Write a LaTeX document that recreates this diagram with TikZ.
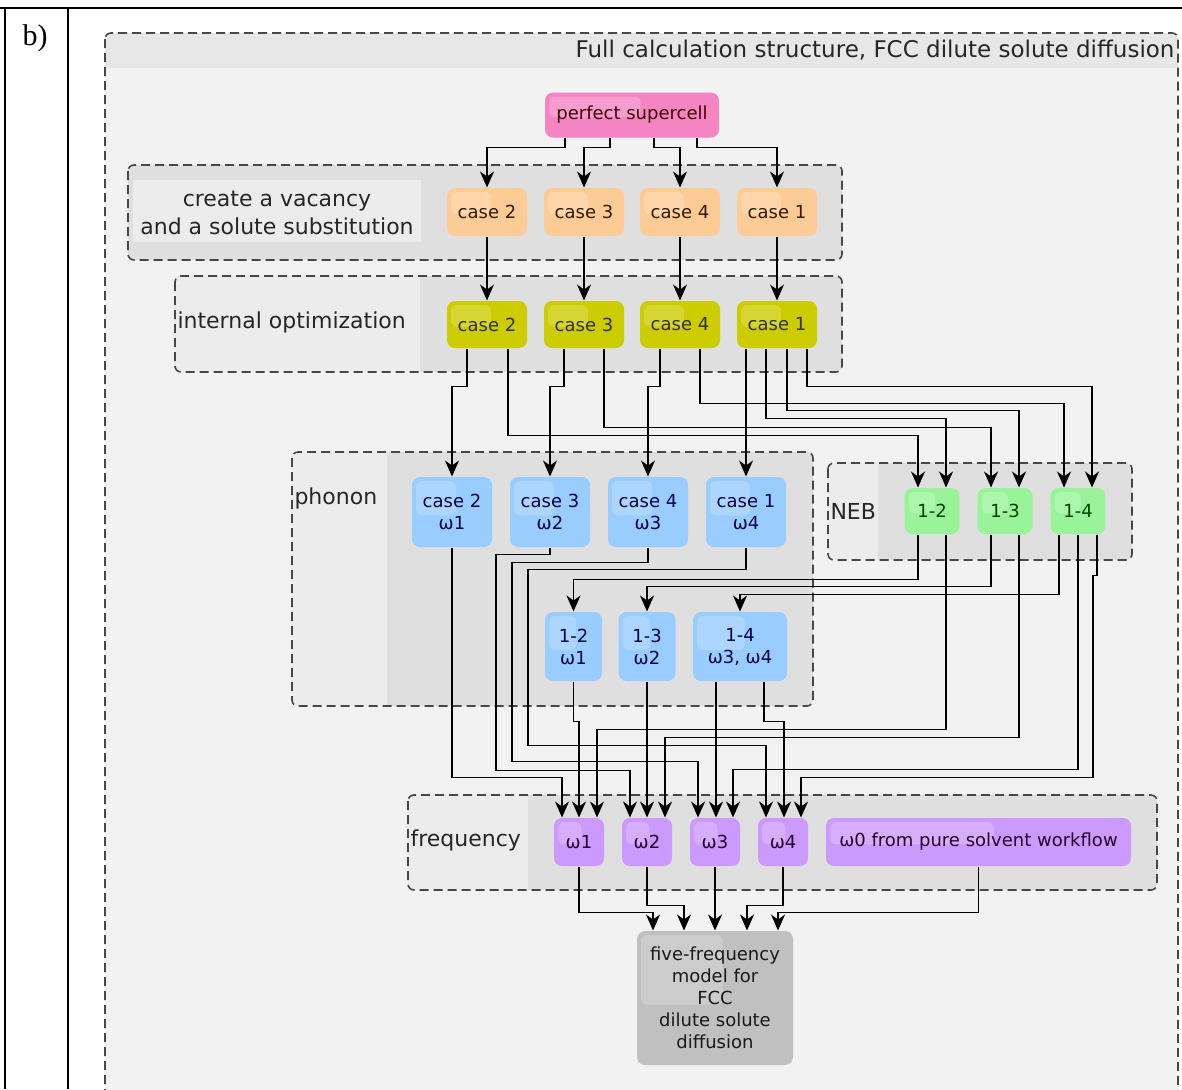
\documentclass[tikz,border=0pt]{standalone}
\usepackage{fontspec}
\setmainfont{DejaVu Sans}
\newfontfamily\tagfont{Liberation Serif}
\usetikzlibrary{arrows.meta,calc}
\definecolor{cpink}{RGB}{244,132,194}
\definecolor{corange}{RGB}{253,204,150}
\definecolor{colive}{RGB}{204,204,0}
\definecolor{cblue}{RGB}{153,204,255}
\definecolor{cgreen}{RGB}{153,244,153}
\definecolor{cviolet}{RGB}{204,153,255}
\definecolor{cgrey}{RGB}{192,192,192}
\definecolor{bgpage}{RGB}{242,242,242}
\definecolor{bgband}{RGB}{231,231,231}
\definecolor{grpdark}{RGB}{223,223,223}
\definecolor{grplight}{RGB}{236,236,236}
\newcommand\boxfont{\fontsize{9}{11}\selectfont}
\newcommand\grpfont{\fontsize{11}{14}\selectfont}
\newcommand\titlefont{\fontsize{11.5}{14}\selectfont}
\tikzset{every picture/.style={line width=0.5pt}}
\tikzset{
  gloss/.style={path picture={\fill[white,opacity=0.2,rounded corners=3pt]
    ($(path picture bounding box.north west)+(4,4)$) rectangle
    ($(path picture bounding box.north west)!0.55!(path picture bounding box.south east)$);}},
  blk/.style={rounded corners=4pt, inner sep=0pt, align=center, font=\boxfont,
    minimum width=40pt, minimum height=24pt, gloss},
  supbox/.style={blk, fill=cpink, text=black!75!red},
  crbox/.style={blk, fill=corange, text=black!80!orange},
  optbox/.style={blk, fill=colive, text=black!85!olive},
  phbox/.style={blk, fill=cblue, text=black!70!blue, minimum height=35pt},
  nebbox/.style={blk, fill=cgreen, text=black!75!green, minimum width=27.5pt, minimum height=23pt},
  frbox/.style={blk, fill=cviolet, text=black!70!violet, minimum width=25pt},
  modelbox/.style={blk, fill=cgrey, text=black!90},
  grp/.style={draw=black!72, line width=0.8pt, dash pattern=on 4.5pt off 2.5pt, rounded corners=3pt},
  grplabel/.style={font=\grpfont, text=black!85, anchor=west, inner sep=0pt},
  flow/.style={-{Stealth[length=8pt,width=7pt,inset=2.5pt]}, line width=0.65pt, draw=black}
}
\begin{document}
\begin{tikzpicture}[x=0.5pt,y=-0.5pt]
\clip (0,0) rectangle (1182,1089);
\fill[white] (0,0) rectangle (1182,1089);
% table frame
\draw[line width=0.8pt] (0,8) -- (1182,8);
\draw[line width=0.8pt] (5,8) -- (5,1089);
\draw[line width=0.8pt] (68,8) -- (68,1089);
\node[font=\tagfont\fontsize{15}{17}\selectfont] (tag) at (35,38) {b)};
% outer container
\begin{scope}
  \clip[rounded corners=3pt] (105,33) rectangle (1178,1120);
  \fill[bgpage] (105,33) rectangle (1178,1120);
  \fill[bgband] (105,33) rectangle (1178,68);
\end{scope}
\draw[grp] (105,33) rectangle (1178,1120);
\node[font=\titlefont, text=black!85, anchor=east, inner sep=0pt] (title) at (1175,50)
  {Full calculation structure, FCC dilute solute diffusion};
% groups
\fill[grpdark, rounded corners=3pt] (128,165) rectangle (842,260);
\fill[grplight] (133,180) rectangle (421,242);
\draw[grp] (128,165) rectangle (842,260);
\foreach \xa/\ya/\xb/\yb/\xl in {175/276/842/372/420, 292/452/813/706/387,
  828/463/1132/560/878, 408/795/1157/890/528}{
  \begin{scope}
    \clip[rounded corners=3pt] (\xa,\ya) rectangle (\xb,\yb);
    \fill[grpdark] (\xa,\ya) rectangle (\xb,\yb);
    \fill[grplight] (\xa,\ya) rectangle (\xl,\yb);
  \end{scope}
  \draw[grp] (\xa,\ya) rectangle (\xb,\yb);
}
\node[grplabel, anchor=center, align=center] (lcreate) at (277,213)
  {create a vacancy\\and a solute substitution};
\node[grplabel] (lopt) at (177,322) {internal optimization};
\node[grplabel] (lphon) at (294,498) {phonon};
\node[grplabel] (lneb) at (830,511) {NEB};
\node[grplabel] (lfreq) at (410,840) {frequency};
% boxes
\node[supbox, minimum width=87pt, minimum height=22.5pt] (sc) at (632,115) {perfect supercell};
\foreach \n/\x in {2/487,3/584,4/680,1/777}{
  \node[crbox] (c\n) at (\x,212) {case \n};
  \node[optbox, minimum height=23.5pt] (o\n) at (\x,324.5) {case \n};
  \draw[flow] (c\n.south) -- (o\n.north);
}
\foreach \n/\x/\w in {2/452/1,3/550/2,4/648/3,1/746/4}{
  \node[phbox] (p\n) at (\x,512) {case \n\\ω\w};
}
\node[phbox, minimum width=28.5pt, minimum height=34.5pt] (q12) at (573.5,646.5) {1-2\\ω1};
\node[phbox, minimum width=28.5pt, minimum height=34.5pt] (q13) at (647,646.5) {1-3\\ω2};
\node[phbox, minimum width=47pt, minimum height=34.5pt] (q14) at (740,646.5) {1-4\\ω3, ω4};
\node[nebbox] (n12) at (932,511) {1-2};
\node[nebbox] (n13) at (1005,511) {1-3};
\node[nebbox] (n14) at (1078,511) {1-4};
\foreach \n/\x in {1/579,2/647,3/715,4/783}{
  \node[frbox] (f\n) at (\x,842) {ω\n};
}
\node[frbox, minimum width=152.5pt] (f0) at (978.5,842) {ω0 from pure solvent workflow};
\node[modelbox, minimum width=78pt, minimum height=67pt] (ff) at (715,998)
  {five-frequency\\model for\\FCC\\dilute solute\\diffusion};
% supercell -> defect cases
\foreach \n/\dx in {2/-67,3/-22,4/22,1/65}{
  \draw[flow] ($(sc.south)+(\dx,0)$) |- ($(c\n.north)+(0,-40)$) -- (c\n.north);
}
% relaxed cases -> phonon and NEB
\foreach \n in {2,3,4}{
  \draw[flow] ($(o\n.south)+(-20,0)$) |- ($(p\n.north)+(0,-90)$) -- (p\n.north);
}
\draw[flow] (o1.south -| p1.north) -- (p1.north);
\foreach \src/\dx/\dst/\side/\lift in {o2/21/n12/-14/52, o1/-11/n12/14/69,
  o3/20/n13/-14/60, o1/10/n13/14/77, o4/20/n14/-14/84, o1/30/n14/14/101}{
  \draw[flow] ($(\src.south)+(\dx,0)$) |- ($(\dst.north)+(\side,-\lift)$) -- ($(\dst.north)+(\side,0)$);
}
% NEB -> jump phonons
\foreach \src/\dx/\dst/\lift in {n12/-14/q12/32, n13/-14/q13/25, n14/-19/q14/17}{
  \draw[flow] ($(\src.south)+(\dx,0)$) |- ($(\dst.north)+(0,-\lift)$) -- (\dst.north);
}
% NEB -> frequency
\draw[flow] ($(n12.south)+(14,0)$) |- ($(f1.north)+(18,-88)$) -- ($(f1.north)+(18,0)$);
\draw[flow] ($(n13.south)+(14,0)$) |- ($(f2.north)+(18,-80)$) -- ($(f2.north)+(18,0)$);
\draw[flow] (n14.south) |- ($(f3.north)+(18,-48)$) -- ($(f3.north)+(18,0)$);
\draw[flow] ($(n14.south)+(19,0)$) -- ++(0,41) -- ++(-4,0) |- ($(f4.north)+(18,-40)$) -- ($(f4.north)+(18,0)$);
% phonon -> frequency
\draw[flow] (p2.south) |- ($(f1.north)+(-17,-40)$) -- ($(f1.north)+(-17,0)$);
\draw[flow] (p3.south) -- ++(0,7) -- ++(-54,0) |- ($(f2.north)+(-17,-47)$) -- ($(f2.north)+(-17,0)$);
\draw[flow] (p4.south) -- ++(0,15) -- ++(-136,0) |- ($(f3.north)+(-17,-56)$) -- ($(f3.north)+(-17,0)$);
\draw[flow] (p1.south) -- ++(0,22) -- ++(-218,0) |- ($(f4.north)+(-17,-72)$) -- ($(f4.north)+(-17,0)$);
\draw[flow] (q12.south) |- ($(f1.north)+(0,-96)$) -- (f1.north);
\draw[flow] (q13.south) -- (f2.north);
\draw[flow] ($(q14.south)+(-24,0)$) -- ($(f3.north)+(1,0)$);
\draw[flow] ($(q14.south)+(24,0)$) |- ($(f4.north)+(1,-96)$) -- ($(f4.north)+(1,0)$);
% frequency -> model
\draw[flow] (f1.south) |- ($(ff.north)+(-62,-18)$) -- ($(ff.north)+(-62,0)$);
\draw[flow] (f2.south) |- ($(ff.north)+(-31,-25)$) -- ($(ff.north)+(-31,0)$);
\draw[flow] (f3.south) -- (ff.north);
\draw[flow] (f4.south) |- ($(ff.north)+(32,-25)$) -- ($(ff.north)+(32,0)$);
\draw[flow] (f0.south) |- ($(ff.north)+(63,-18)$) -- ($(ff.north)+(63,0)$);
\end{tikzpicture}
\end{document}
